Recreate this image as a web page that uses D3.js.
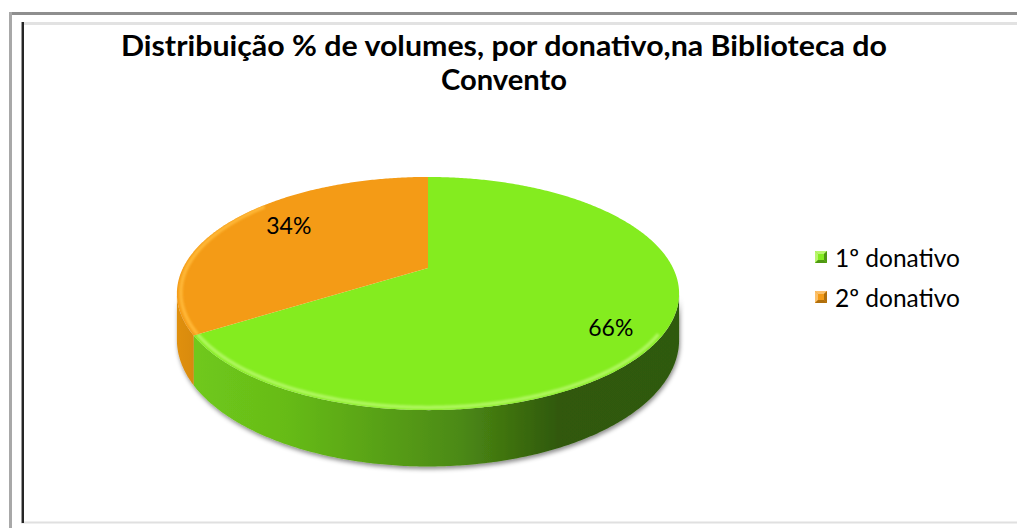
<!DOCTYPE html>
<html>
<head>
<meta charset="utf-8">
<script src="https://cdn.jsdelivr.net/npm/d3@7"></script>
<style>
  html, body { margin: 0; padding: 0; background: #fff; }
  svg { display: block; }
</style>
</head>
<body>
<svg id="chart" width="1017" height="528"></svg>
<script>
// ---- data ----
const categories = ["1º donativo", "2º donativo"];
const values = [66, 34];
const titleLines = ["Distribuição % de volumes, por donativo,na Biblioteca do", "Convento"];

// ---- styles ----
const topColors  = ["#84ec1f", "#f49b16"];
const rimColors  = ["#b0f760", "#ffb838"];
const sideStops  = [
  [["0%", "#70c91b"], ["20%", "#66bb18"], ["55%", "#4c8a14"], ["75%", "#30590b"], ["100%", "#2f5a0b"]],
  [["0%", "#e0900f"], ["100%", "#cf840f"]]
];
const legendLight = ["#b9f56e", "#fbc06a"];
const legendDark  = ["#4f9812", "#b06f0c"];
const labelNudge  = [[8, 15], [10, -6]];
const titleWidths = [766, 126];

const svg = d3.select("#chart");
const defs = svg.append("defs");

// ---- frame ----
const frame = svg.append("g");
frame.append("line").attr("x1", 9).attr("x2", 1017).attr("y1", 13.5).attr("y2", 13.5)
  .attr("stroke", "#8e8e8e").attr("stroke-width", 3);
frame.append("line").attr("x1", 10.5).attr("x2", 10.5).attr("y1", 12).attr("y2", 528)
  .attr("stroke", "#a8a8a8").attr("stroke-width", 3);
frame.append("line").attr("x1", 21).attr("x2", 1017).attr("y1", 23.5).attr("y2", 23.5)
  .attr("stroke", "#e2e2e2").attr("stroke-width", 3);
frame.append("line").attr("x1", 21).attr("x2", 1017).attr("y1", 522.5).attr("y2", 522.5)
  .attr("stroke", "#e0e0e0").attr("stroke-width", 2);
frame.append("line").attr("x1", 21.5).attr("x2", 21.5).attr("y1", 22).attr("y2", 523)
  .attr("stroke", "#9a9a9a").attr("stroke-width", 1);
frame.append("line").attr("x1", 23).attr("x2", 23).attr("y1", 22).attr("y2", 523)
  .attr("stroke", "#262626").attr("stroke-width", 2);

// ---- title ----
svg.append("g").selectAll("text").data(titleLines).join("text")
  .attr("x", 504).attr("y", (d, i) => 56 + i * 34)
  .attr("text-anchor", "middle")
  .attr("font-family", "Lato, 'Open Sans', sans-serif")
  .attr("font-weight", "bold").attr("font-size", 28)
  .attr("textLength", (d, i) => titleWidths[i])
  .attr("lengthAdjust", "spacingAndGlyphs")
  .attr("fill", "#000")
  .text(d => d);

// ---- 3D pie projection ----
const cx = 428, cy = 268, A = 245, B = 111, k = 0.219, depth = 44;
const w = t => 1 + k * Math.cos(t);
const proj = (t, r = 1) => [cx + A * r * Math.sin(t) / (1 + k * r * Math.cos(t)),
                            cy - B * r * Math.cos(t) / (1 + k * r * Math.cos(t))];
const projLow = t => { const p = proj(t); return [p[0], p[1] + depth / w(t)]; };

const pie = d3.pie().sort(null).startAngle(0).endAngle(2 * Math.PI);
const arcs = pie(values);
const steps = (a0, a1) => { const n = Math.max(2, Math.ceil((a1 - a0) / 0.01)); return d3.range(n + 1).map(i => a0 + (a1 - a0) * i / n); };
const line = d3.line();

// front silhouette: horizontal extremes of the projected rim
const sL = Math.acos(-k), sR = 2 * Math.PI - Math.acos(-k);

// side gradients
sideStops.forEach((stops, i) => {
  const g = defs.append("linearGradient").attr("id", "side" + i)
    .attr("gradientUnits", "userSpaceOnUse")
    .attr("x1", i === 0 ? 190 : 176).attr("x2", i === 0 ? 680 : 215).attr("y1", 0).attr("y2", 0);
  stops.forEach(s => g.append("stop").attr("offset", s[0]).attr("stop-color", s[1]));
});

const shadow = defs.append("filter").attr("id", "shadow")
  .attr("x", "-10%").attr("y", "-20%").attr("width", "120%").attr("height", "150%");
shadow.append("feDropShadow").attr("dx", 1).attr("dy", 2.5).attr("stdDeviation", 2.2)
  .attr("flood-color", "#000").attr("flood-opacity", 0.45);
defs.append("filter").attr("id", "soft").append("feGaussianBlur").attr("stdDeviation", 1.3);

const pieG = svg.append("g");

// side walls (visible front portion only)
const sideG = pieG.append("g").attr("filter", "url(#shadow)");
arcs.forEach((a, i) => {
  const a0 = Math.max(a.startAngle, sL), a1 = Math.min(a.endAngle, sR);
  if (a1 <= a0) return;
  const ts = steps(a0, a1);
  const pts = ts.map(t => proj(t)).concat(ts.slice().reverse().map(projLow));
  sideG.append("path").attr("d", line(pts) + "Z").attr("fill", `url(#side${i})`);
});

// top faces
const topPath = a => line([[cx, cy]].concat(steps(a.startAngle, a.endAngle).map(t => proj(t)))) + "Z";
arcs.forEach((a, i) => {
  defs.append("clipPath").attr("id", "clipTop" + i).append("path").attr("d", topPath(a));
});
const topG = pieG.append("g");
arcs.forEach((a, i) => {
  topG.append("path").attr("d", topPath(a)).attr("fill", topColors[i]);
  // bevel highlight along the near rim
  const r0 = Math.max(a.startAngle, Math.PI * 0.68), r1 = Math.min(a.endAngle, Math.PI * 1.72);
  if (r1 > r0) {
    topG.append("g").attr("clip-path", `url(#clipTop${i})`)
      .append("path").attr("d", line(steps(r0, r1).map(t => proj(t, 0.985))))
      .attr("fill", "none").attr("stroke", rimColors[i]).attr("stroke-width", 3.5)
      .attr("filter", "url(#soft)");
  }
});

// value labels
arcs.forEach((a, i) => {
  const m = (a.startAngle + a.endAngle) / 2;
  const p = proj(m, 0.75);
  pieG.append("text")
    .attr("x", p[0] + labelNudge[i][0]).attr("y", p[1] + labelNudge[i][1])
    .attr("text-anchor", "middle").attr("dominant-baseline", "central")
    .attr("font-family", "Lato, 'Open Sans', sans-serif").attr("font-size", 23)
    .attr("fill", "#000")
    .text(values[i] + "%");
});

// ---- legend ----
const legend = svg.append("g").attr("transform", "translate(815,251)");
categories.forEach((c, i) => {
  const g = legend.append("g").attr("transform", `translate(0,${i * 40})`);
  const s = 12, b = 3;
  g.append("rect").attr("width", s).attr("height", s).attr("fill", topColors[i]);
  g.append("path").attr("d", `M0,0L${s},0L${s - b},${b}L${b},${b}Z`).attr("fill", legendLight[i]);
  g.append("path").attr("d", `M0,0L${b},${b}L${b},${s - b}L0,${s}Z`).attr("fill", legendLight[i]);
  g.append("path").attr("d", `M${s},0L${s},${s}L${s - b},${s - b}L${s - b},${b}Z`).attr("fill", legendDark[i]);
  g.append("path").attr("d", `M0,${s}L${s},${s}L${s - b},${s - b}L${b},${s - b}Z`).attr("fill", legendDark[i]);
  g.append("text").attr("x", 20).attr("y", 6).attr("dominant-baseline", "central")
    .attr("font-family", "Lato, 'Open Sans', sans-serif").attr("font-size", 24.5)
    .attr("fill", "#000").text(c);
});
</script>
</body>
</html>
